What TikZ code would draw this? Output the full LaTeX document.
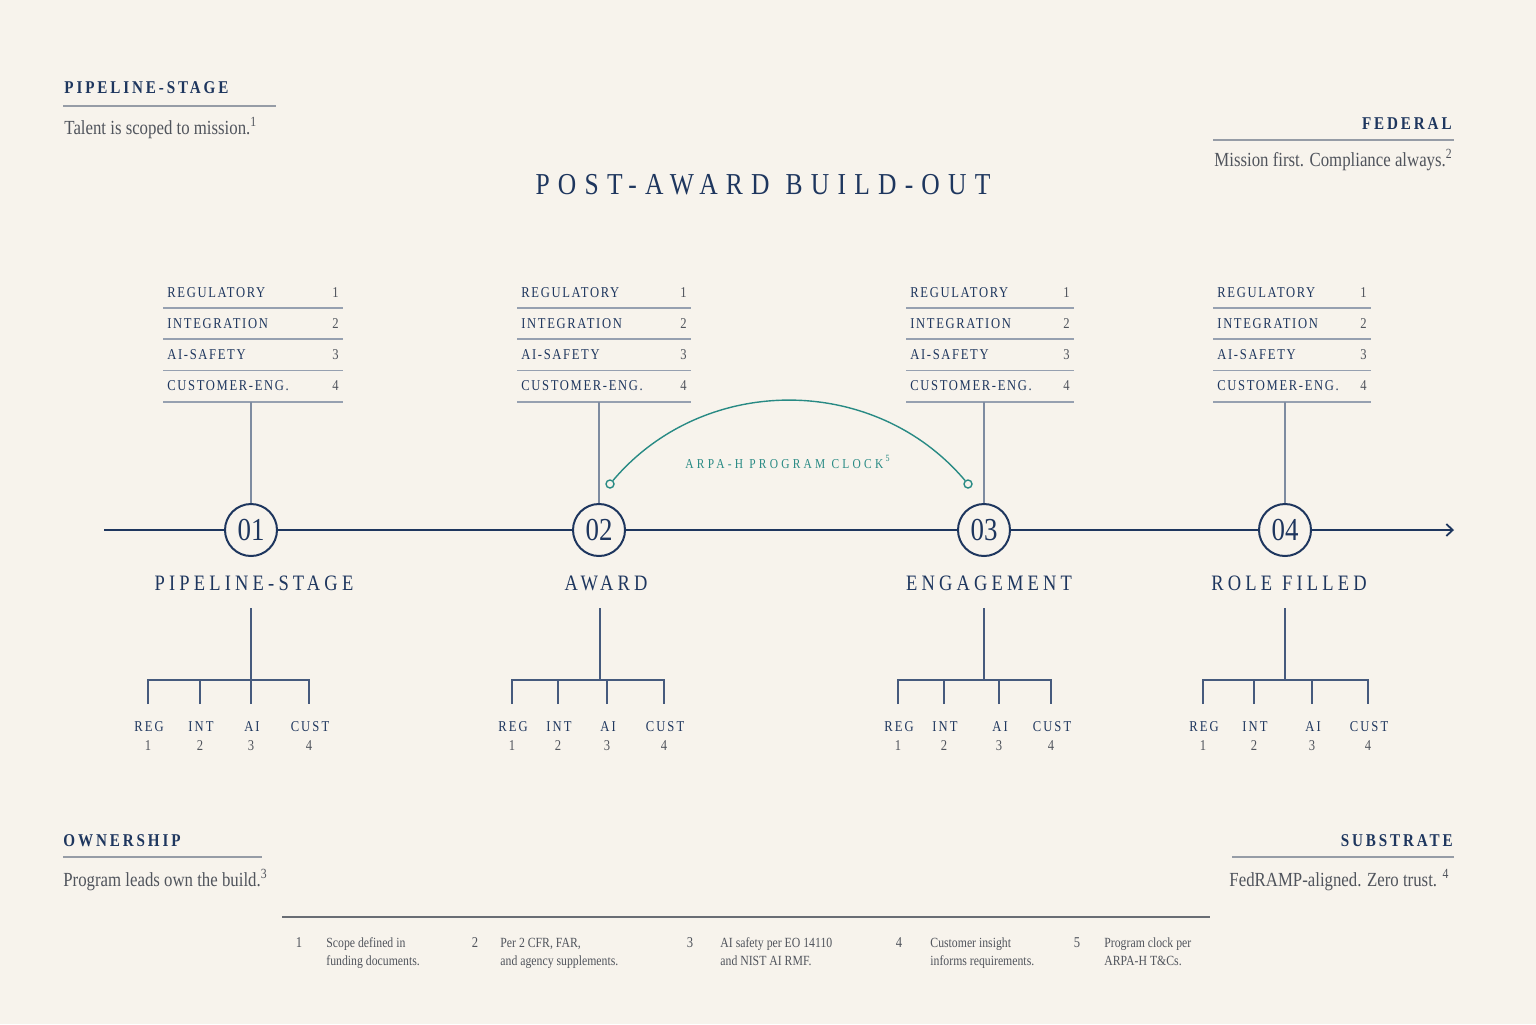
\documentclass[tikz,border=0pt]{standalone}
\usepackage{fontspec}
\setmainfont{Liberation Serif}[FakeStretch=0.84]
\usetikzlibrary{arrows.meta}
\definecolor{bgc}{RGB}{247,243,236}
\definecolor{navy}{RGB}{30,54,94}
\definecolor{txtg}{RGB}{80,84,92}
\definecolor{ruleg}{RGB}{150,156,166}
\definecolor{truleg}{RGB}{150,160,176}
\definecolor{treec}{RGB}{70,90,125}
\definecolor{tealc}{RGB}{40,138,132}
\newcommand\mktable[4]{%
  \node[rowlab, anchor=base west] (t#1r1) at (#2+4,297) {REGULATORY};
  \node[rownum, anchor=base east] (t#1n1) at (#3-4,297) {1};
  \node[rowlab, anchor=base west] (t#1r2) at (#2+4,328) {INTEGRATION};
  \node[rownum, anchor=base east] (t#1n2) at (#3-4,328) {2};
  \node[rowlab, anchor=base west] (t#1r3) at (#2+4,359) {AI-SAFETY};
  \node[rownum, anchor=base east] (t#1n3) at (#3-4,359) {3};
  \node[rowlab, anchor=base west] (t#1r4) at (#2+4,390) {CUSTOMER-ENG.};
  \node[rownum, anchor=base east] (t#1n4) at (#3-4,390) {4};
  \draw[trule] (#2,308) -- (#3,308);
  \draw[trule] (#2,339) -- (#3,339);
  \draw[trule] (#2,370.5) -- (#3,370.5);
  \draw[trule] (#2,402) -- (#3,402);
  \coordinate (t#1b) at (#4,402);
  \draw[conn] (t#1b) -- (c#1);
}
\newcommand\mktree[6]{%
  \coordinate (k#1) at (#2,608);
  \coordinate (j#1) at (#2,680);
  \draw[treeline] (k#1) -- (j#1);
  \coordinate (d#1a) at (#3,704);
  \coordinate (d#1b) at (#4,704);
  \coordinate (d#1c) at (#5,704);
  \coordinate (d#1d) at (#6,704);
  \draw[treeline] (d#1a) -- (#3,680) -- (#6,680) -- (d#1d);
  \draw[treeline] (d#1b) -- (#4,680);
  \draw[treeline] (d#1c) -- (#5,680);
  \node[treelab, anchor=base] (l#1a) at (#3+1,731) {REG};
  \node[treelab, anchor=base] (l#1b) at (#4+1,731) {INT};
  \node[treelab, anchor=base] (l#1c) at (#5+1,731) {AI};
  \node[treelab, anchor=base] (l#1d) at (#6+1,731) {CUST};
  \node[treenum, anchor=base] (n#1a) at (#3,750) {1};
  \node[treenum, anchor=base] (n#1b) at (#4,750) {2};
  \node[treenum, anchor=base] (n#1c) at (#5,750) {3};
  \node[treenum, anchor=base] (n#1d) at (#6,750) {4};
}
\newcommand\fnote[5]{%
  \node[fnnum, anchor=base] (fn#1) at (#2,947) {#1};
  \node[fntext, anchor=base west] (fa#1) at (#3,947) {#4};
  \node[fntext, anchor=base west] (fb#1) at (#3,965) {#5};
}
\begin{document}
\begin{tikzpicture}[x=0.5pt,y=-0.5pt,
  hdr/.style={font={\fontsize{9}{11}\selectfont\bfseries\addfontfeature{LetterSpace=16}}, text=navy, inner sep=0},
  body/.style={font={\fontsize{10}{12}\selectfont}, text=txtg, inner sep=0},
  crule/.style={ruleg, line width=0.8pt},
  title/.style={font={\fontsize{15.2}{18}\selectfont\addfontfeature{LetterSpace=27}}, text=navy, inner sep=0},
  stagecirc/.style={circle, draw=navy, line width=1pt, minimum size=26pt, inner sep=0, fill=bgc, text=navy, font={\fontsize{16}{18}\selectfont}},
  stagelab/.style={font={\fontsize{11}{13}\selectfont\addfontfeature{LetterSpace=19}}, text=navy, inner sep=0},
  rowlab/.style={font={\fontsize{7.5}{9}\selectfont\addfontfeature{LetterSpace=11}}, text=navy, inner sep=0},
  rownum/.style={font={\fontsize{7.5}{9}\selectfont}, text=txtg, inner sep=0},
  trule/.style={truleg, line width=0.6pt},
  conn/.style={truleg!80!navy, line width=0.6pt},
  treeline/.style={treec, line width=0.7pt},
  treelab/.style={font={\fontsize{7.5}{9}\selectfont\addfontfeature{LetterSpace=14}}, text=navy, inner sep=0},
  treenum/.style={font={\fontsize{7.5}{9}\selectfont}, text=txtg, inner sep=0},
  timeline/.style={navy, line width=0.9pt},
  clk/.style={circle, draw=tealc, line width=0.7pt, minimum size=4pt, inner sep=0, fill=bgc},
  clklab/.style={font={\fontsize{6.8}{8}\selectfont\addfontfeature{LetterSpace=24}}, text=tealc, inner sep=0},
  fnnum/.style={font={\fontsize{7.5}{9}\selectfont}, text=txtg, inner sep=0},
  fntext/.style={font={\fontsize{7}{9}\selectfont}, text=txtg, inner sep=0}
]
\useasboundingbox (0,0) rectangle (1536,1024);
\fill[bgc] (0,0) rectangle (1536,1024);

% corner blocks
\node[hdr, anchor=base west] (h1) at (64,93) {PIPELINE-STAGE};
\draw[crule] (63,106) -- (276,106);
\node[body, anchor=base west] (b1) at (64,134) {Talent is scoped to mission.\textsuperscript{1}};

\node[hdr, anchor=base east] (h2) at (1452,129) {FEDERAL};
\draw[crule] (1213,140) -- (1454,140);
\node[body, anchor=base west] (b2) at (1214,166) {Mission first. Compliance always.\textsuperscript{2}};

\node[hdr, anchor=base west] (h3) at (63,846) {OWNERSHIP};
\draw[crule] (63,857) -- (262,857);
\node[body, anchor=base west] (b3) at (63,886) {Program leads own the build.\textsuperscript{3}};

\node[hdr, anchor=base east] (h4) at (1453,846) {SUBSTRATE};
\draw[crule] (1232,857) -- (1454,857);
\node[body, anchor=base east] (b4) at (1450,886) {FedRAMP-aligned. Zero trust. \textsuperscript{4}};

% title
\node[title, anchor=base] (ttl) at (763,194) {POST-AWARD \hspace{0.05em}BUILD-OUT};

% timeline
\coordinate (tstart) at (104,530);
\coordinate (tend) at (1454,530);
\node[stagecirc] (c1) at (251,530) {01};
\node[stagecirc] (c2) at (599,530) {02};
\node[stagecirc] (c3) at (984,530) {03};
\node[stagecirc] (c4) at (1285,530) {04};
\draw[timeline] (tstart) -- (c1);
\draw[timeline] (c1) -- (c2);
\draw[timeline] (c2) -- (c3);
\draw[timeline] (c3) -- (c4);
\draw[timeline, -{Straight Barb[length=3.2pt,width=6pt]}] (c4) -- (tend);

\node[stagelab, anchor=base] (s1) at (254,590) {PIPELINE-STAGE};
\node[stagelab, anchor=base] (s2) at (606,590) {AWARD};
\node[stagelab, anchor=base] (s3) at (989,590) {ENGAGEMENT};
\node[stagelab, anchor=base] (s4) at (1289,590) {ROLE \hspace{0.05em}FILLED};

% tables
\mktable{1}{163}{343}{251}
\mktable{2}{517}{691}{599}
\mktable{3}{906}{1074}{984}
\mktable{4}{1213}{1371}{1285}

% trees
\mktree{1}{251}{148}{200}{251}{309}
\mktree{2}{600}{512}{558}{607}{664}
\mktree{3}{984}{898}{944}{999}{1051}
\mktree{4}{1285}{1203}{1254}{1312}{1368}

% program clock arc
\node[clk] (a1) at (610,484) {};
\node[clk] (a2) at (968,484) {};
\draw[tealc, line width=0.7pt] (a1) .. controls (703.7,373.3) and (874.3,373.3) .. (a2);
\node[clklab, anchor=base] (clab) at (788,468) {ARPA-H PROGRAM CLOCK\,\textsuperscript{5}};

% footnotes
\draw[ruleg!70!black, line width=0.6pt] (282,917) -- (1210,917);
\fnote{1}{299}{326}{Scope defined in}{funding documents.}
\fnote{2}{475}{500}{Per 2 CFR, FAR,}{and agency supplements.}
\fnote{3}{690}{720}{AI safety per EO 14110}{and NIST AI RMF.}
\fnote{4}{899}{930}{Customer insight}{informs requirements.}
\fnote{5}{1077}{1104}{Program clock per}{ARPA-H T\&Cs.}
\end{tikzpicture}
\end{document}
